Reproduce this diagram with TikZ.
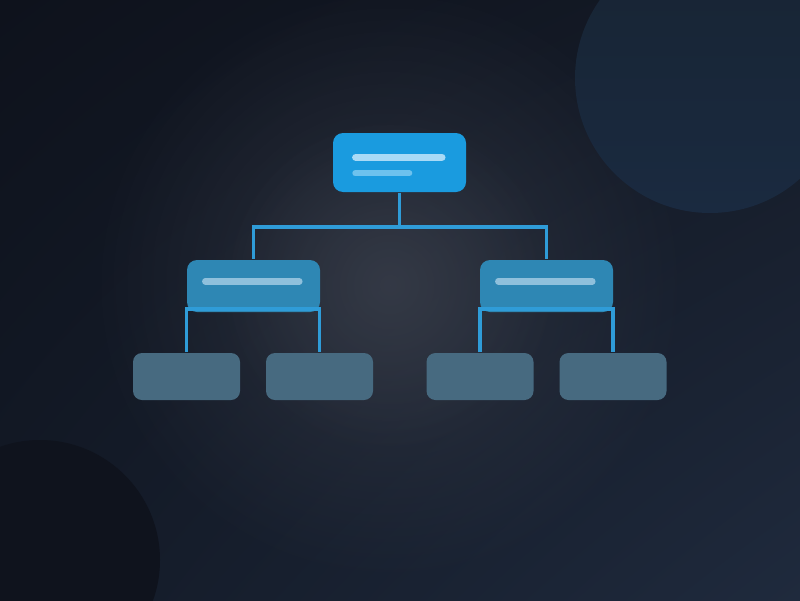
\documentclass[tikz,border=0pt]{standalone}
\usepackage{tikz}
\usetikzlibrary{calc,fadings,shadings}

\definecolor{bgTL}{HTML}{0E121C}
\definecolor{bgTR}{HTML}{141A26}
\definecolor{bgBL}{HTML}{131A27}
\definecolor{bgBR}{HTML}{1F2A3D}
\definecolor{glow}{HTML}{3A3F4B}
\definecolor{blobA}{HTML}{172433}
\definecolor{blobB}{HTML}{1A2A40}
\definecolor{blobC}{HTML}{0F131D}
\definecolor{rootblue}{HTML}{1A9BDF}
\definecolor{midblue}{HTML}{2E87B4}
\definecolor{leafgrey}{HTML}{476A80}
\definecolor{linkblue}{HTML}{2F9CD8}
\definecolor{barA}{HTML}{A9DAF6}
\definecolor{barB}{HTML}{6DC2EE}
\definecolor{barC}{HTML}{8FC0DC}

\tikzfading[name=glowfade,inner color=transparent!0,outer color=transparent!100]

\begin{document}
\begin{tikzpicture}[x=0.1mm,y=-0.1mm,
		rootbox/.style={fill=rootblue,rounded corners=1mm,minimum width=13.3mm,minimum height=5.9mm,inner sep=0pt},
		midbox/.style={fill=midblue,rounded corners=1mm,minimum width=13.3mm,minimum height=5.2mm,inner sep=0pt},
		leafbox/.style={fill=leafgrey,rounded corners=0.9mm,minimum width=10.7mm,minimum height=4.7mm,inner sep=0pt},
		link/.style={draw=linkblue,line width=0.35mm},
		bar/.style={line cap=round}]
				\useasboundingbox (0,0) rectangle (800,600);
				\begin{scope}
				\clip (0,0) rectangle (800,600);
				%background
				\shade[upper left=bgTL,upper right=bgTR,lower left=bgBL,lower right=bgBR] (0,0) rectangle (800,600);
				\fill[glow,opacity=0.6,path fading=glowfade] (390,285) circle (300);
				\fill[glow,opacity=0.6,path fading=glowfade] (390,285) circle (170);
				%blobs
				\shade[top color=blobA,bottom color=blobB] (710,78) circle (135);
				\fill[blobC] (40,560) circle (120);
				\end{scope}
				
				%nodes
				\node[rootbox] (root) at (399.5,162.5) {};
				\node[midbox] (midL) at (253.5,286) {};
				\node[midbox] (midR) at (546.5,286) {};
				\node[leafbox] (leafA) at (186.5,376.5) {};
				\node[leafbox] (leafB) at (319.5,376.5) {};
				\node[leafbox] (leafC) at (480,376.5) {};
				\node[leafbox] (leafD) at (613,376.5) {};
				
				%bars
				\draw[bar,barA,line width=0.75mm] ([shift={(23.5,25)}]root.north west) -- ([shift={(109.5,25)}]root.north west);
				\draw[bar,barB,line width=0.6mm] ([shift={(23,41)}]root.north west) -- ([shift={(77,41)}]root.north west);
				\draw[bar,barC,line width=0.65mm] ([shift={(19,22)}]midL.north west) -- ([shift={(113,22)}]midL.north west);
				\draw[bar,barC,line width=0.65mm] ([shift={(19,22)}]midR.north west) -- ([shift={(113,22)}]midR.north west);
				
				%links
				\coordinate (split) at (399.5,227);
				\draw[link] (root.south) -- (split) -| (midL.north);
				\draw[link] (split) -| (midR.north);
				\draw[link] (leafA.north) |- ([yshift=1]midL.south) -| (leafB.north);
				\draw[link] (leafC.north) |- ([yshift=1]midR.south) -| (leafD.north);
				
			\end{tikzpicture}
\end{document}
